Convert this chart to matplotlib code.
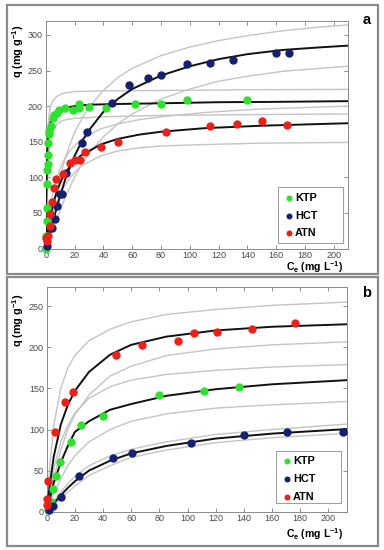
import matplotlib
matplotlib.use("Agg")
import matplotlib.pyplot as plt
from matplotlib.patches import Rectangle
from matplotlib.lines import Line2D

plt.rcParams['font.family'] = ['Liberation Sans', 'DejaVu Sans']
plt.rcParams['mathtext.fontset'] = 'custom'
plt.rcParams['mathtext.rm'] = 'Liberation Sans'
plt.rcParams['mathtext.bf'] = 'Liberation Sans:bold'

# ---------------- Panel a : measured points ----------------
a_ktp_ce = [0.3, 0.5, 0.7, 0.8, 1.1, 1.2, 1.3, 1.4, 1.6, 2.3, 2.5, 3.5, 4.9, 6.0, 7.6, 9.5,
            13.6, 19.2, 23.4, 23.4, 29.9, 41.9, 61.9, 79.7, 98.0, 139.5]
a_ktp_q = [0, 17, 38, 57, 91, 110, 119, 132, 148, 161, 165, 172, 184, 188, 191, 194,
           198, 194, 203, 198, 199, 197, 203, 203, 208, 209]
a_hct_ce = [1.0, 4.5, 6.5, 7.5, 10.0, 11.0, 14.0, 25.0, 29.0, 46.0, 58.0, 71.0, 80.0, 98.0,
            114.0, 130.0, 160.0, 169.0]
a_hct_q = [4, 29, 42, 59, 77, 76, 106, 148, 164, 204, 229, 239, 244, 259, 261, 265, 275, 275]
a_atn_ce = [0.5, 0.7, 1.8, 3.0, 3.0, 4.6, 5.8, 7.2, 12.0, 16.7, 20.6, 23.8, 27.5, 38.4, 50.3,
            83.6, 113.7, 132.8, 150.2, 167.5]
a_atn_q = [15, 11, 17, 31, 49, 65, 85, 98, 105, 120, 124, 125, 135, 143, 149, 163, 172, 175, 179, 174]

# ---------------- Panel a : fitted curves ----------------
a_ktp_fit_x = [0, 0.2, 0.5, 1.0, 1.5, 2, 3, 4, 5, 7, 10, 15, 20, 30, 50, 80, 120, 160, 210]
a_ktp_fit_y = [0, 30, 80, 130, 152, 163, 175, 182, 186, 191, 195, 198, 200, 202, 203, 204, 205.5, 206, 207]
a_ktp_up_x = [0, 0.3, 0.7, 1.5, 3, 5, 8, 12, 20, 40, 80, 140, 210]
a_ktp_up_y = [0, 60, 120, 170, 198, 208, 214, 218, 220.5, 221.5, 222, 223, 223.5]
a_ktp_lo_x = [0, 0.5, 1, 2, 3, 5, 8, 12, 20, 40, 80, 140, 210]
a_ktp_lo_y = [0, 40, 80, 125, 148, 165, 175, 180, 183, 185, 187, 188, 189]

a_hct_fit_x = [0, 2, 5, 8, 10, 14, 20, 25, 30, 40, 50, 60, 80, 100, 120, 140, 165, 190, 210]
a_hct_fit_y = [0, 14, 37, 60, 74, 100, 130, 150, 166, 192, 210, 224, 243, 256, 266, 273, 279, 282.5, 285]
a_hct_up_y = [0, 18, 50, 82, 100, 130, 163, 182, 198, 222, 240, 253, 271, 283, 292, 299, 306, 311, 314]
a_hct_lo_y = [0, 10, 25, 42, 53, 74, 100, 118, 133, 157, 175, 189, 210, 224, 235, 242, 249, 253, 256]

a_atn_fit_x = [0, 2, 5, 8, 12, 17, 24, 38, 50, 65, 80, 110, 150, 210]
a_atn_fit_y = [0, 31, 62, 82, 101, 116, 130, 146, 154, 160, 164, 169, 172.5, 176]
a_atn_up_y = [0, 40, 78, 102, 122, 138, 152, 168, 175, 181, 185, 191, 196, 200]
a_atn_lo_y = [0, 22, 48, 66, 84, 100, 115, 130, 137, 141.5, 144, 146, 148, 149]

# ---------------- Panel b : measured points ----------------
b_ktp_ce = [0.8, 2.8, 4.7, 6.8, 9.2, 17.0, 24.0, 39.8, 79.5, 111.9, 136.8]
b_ktp_q = [2, 12, 28, 43, 60, 85, 105, 116, 141.5, 146.3, 152]
b_hct_ce = [1.5, 4.5, 10.5, 23.2, 47.3, 60.4, 102.7, 139.9, 170.9, 210.2]
b_hct_q = [2, 7.5, 18, 43, 65, 71, 84, 93, 97, 97]
b_atn_ce = [0.1, 0.3, 1.0, 5.9, 13.3, 18.9, 49.4, 67.5, 93.3, 104.6, 120.7, 145.6, 176.3]
b_atn_q = [8, 16, 37, 97, 134, 146, 191, 203, 208, 218, 219, 222, 230]

# ---------------- Panel b : fitted curves ----------------
b_x = [0, 2, 5, 10, 15, 20, 30, 45, 60, 85, 120, 160, 213]
b_atn_fit_y = [0, 30, 67, 106, 130, 147, 170, 191, 203, 213, 220.5, 225, 228]
b_atn_up_y = [0, 50, 105, 150, 175, 190, 208, 222, 231, 240, 246, 251, 255]
b_atn_lo_y = [0, 15, 40, 75, 100, 118, 142, 165, 177, 190, 198, 203, 206.6]
b_ktp_fit_y = [0, 14, 35, 60, 80, 97, 110, 124, 131, 141, 149, 155, 160]
b_ktp_up_y = [0, 22, 52, 85, 105, 120, 138, 152, 160, 167, 172, 176, 179]
b_ktp_lo_y = [0, 8, 22, 40, 56, 68, 85, 100, 110, 119, 126, 130, 134]
b_hct_fit_y = [0, 4, 10, 20, 29, 37, 50, 62, 71, 80, 89, 95, 100.5]
b_hct_up_y = [0, 5.5, 13, 24, 34, 43, 56, 68, 76, 85, 94, 100, 106.6]
b_hct_lo_y = [0, 3, 8, 16, 24, 31, 44, 56, 66, 75, 84, 90, 95.3]

labels = ['KTP', 'HCT', 'ATN']
colors = {'KTP': '#2fe02f', 'HCT': '#15206e', 'ATN': '#e8211b'}
GRAY = '#c4c4c4'
W, H = 384, 550

fig = plt.figure(figsize=(W / 100, H / 100), dpi=100)
fig.patch.set_facecolor('white')

def fx(px):
    return px / W

def fy(py):
    return 1 - py / H

def px_rect(x0, y0, x1, y1):
    return [x0 / W, 1 - y1 / H, (x1 - x0) / W, (y1 - y0) / H]

# panel frames
for (x0, y0, x1, y1) in [(7, 5, 378, 274), (7, 277, 378, 546)]:
    r = Rectangle((fx(x0), fy(y1)), (x1 - x0) / W, (y1 - y0) / H,
                  transform=fig.transFigure, fill=False, edgecolor='#8a8a8a', lw=1.6)
    fig.patches.append(r)

def style_axes(ax, xlim, ylim, yticks):
    ax.set_xlim(*xlim)
    ax.set_ylim(*ylim)
    ax.set_xticks(range(0, 201, 20))
    ax.set_yticks(yticks)
    ax.tick_params(direction='in', length=3, width=0.6, colors='#7a7a7a', labelcolor='#4a4a4a',
                   labelsize=6.5, top=True, right=True, pad=2)
    for s in ax.spines.values():
        s.set_color('#8a8a8a')
        s.set_linewidth(0.7)

def draw_points(ax, data):
    for name, (xs, ys) in data.items():
        ax.plot(xs, ys, 'o', color=colors[name], ms=5, mec=colors[name], zorder=5, clip_on=False)

# ---------------- Panel a ----------------
axa = fig.add_axes(px_rect(45.7, 20.7, 348.3, 248.5))
style_axes(axa, (0, 210), (0, 320), [0, 50, 100, 150, 200, 250, 300])
for xs, ys in [(a_ktp_up_x, a_ktp_up_y), (a_ktp_lo_x, a_ktp_lo_y),
               (a_hct_fit_x, a_hct_up_y), (a_hct_fit_x, a_hct_lo_y),
               (a_atn_fit_x, a_atn_up_y), (a_atn_fit_x, a_atn_lo_y)]:
    axa.plot(xs, ys, color=GRAY, lw=1.0, zorder=2)
for xs, ys in [(a_ktp_fit_x, a_ktp_fit_y), (a_hct_fit_x, a_hct_fit_y), (a_atn_fit_x, a_atn_fit_y)]:
    axa.plot(xs, ys, color='#111111', lw=1.4, zorder=3)
draw_points(axa, {'KTP': (a_ktp_ce, a_ktp_q), 'HCT': (a_hct_ce, a_hct_q), 'ATN': (a_atn_ce, a_atn_q)})

# ---------------- Panel b ----------------
axb = fig.add_axes(px_rect(46.7, 287.3, 346.7, 511.7))
style_axes(axb, (0, 213), (0, 273), [0, 50, 100, 150, 200, 250])
for ys in [b_atn_up_y, b_atn_lo_y, b_ktp_up_y, b_ktp_lo_y, b_hct_up_y, b_hct_lo_y]:
    axb.plot(b_x, ys, color=GRAY, lw=1.0, zorder=2)
for ys in [b_atn_fit_y, b_ktp_fit_y, b_hct_fit_y]:
    axb.plot(b_x, ys, color='#111111', lw=1.4, zorder=3)
draw_points(axb, {'KTP': (b_ktp_ce, b_ktp_q), 'HCT': (b_hct_ce, b_hct_q), 'ATN': (b_atn_ce, b_atn_q)})

# legends (MATLAB-like boxes, placed in figure pixels)
for (x0, y0, x1, y1), ys, mx in [((278, 187, 343, 243), (198, 216, 233), 289),
                                 ((276, 451, 341, 503), (461, 479, 497), 287)]:
    box = Rectangle((fx(x0), fy(y1)), (x1 - x0) / W, (y1 - y0) / H, transform=fig.transFigure,
                    facecolor='white', edgecolor='#9a9a9a', lw=0.7, zorder=10)
    fig.patches.append(box)
    for name, yy in zip(labels, ys):
        fig.add_artist(Line2D([fx(mx)], [fy(yy)], marker='o', ls='', color=colors[name], ms=3.3,
                              transform=fig.transFigure, zorder=11))
        fig.text(fx(mx + 6), fy(yy), name, ha='left', va='center', fontsize=7.8,
                 fontweight='bold', zorder=12)

# axis labels and panel letters
for ytop, ybot, letter, ly in [(25, 267.5, 'a', 20), (294, 534.5, 'b', 293)]:
    fig.text(fx(18.5), fy(ytop), r'q (mg g$^{\mathbf{-1}}$)', rotation=90, ha='center', va='top',
             fontsize=7.8, fontweight='bold')
    fig.text(fx(343), fy(ybot), r'C$_{\mathbf{e}}$ (mg L$^{\mathbf{-1}}$)', ha='right', va='center',
             fontsize=7.6, fontweight='bold')
    fig.text(fx(367), fy(ly), letter, ha='center', va='center', fontsize=10.5, fontweight='bold')

fig.savefig('out.png', dpi=100, facecolor='white')
